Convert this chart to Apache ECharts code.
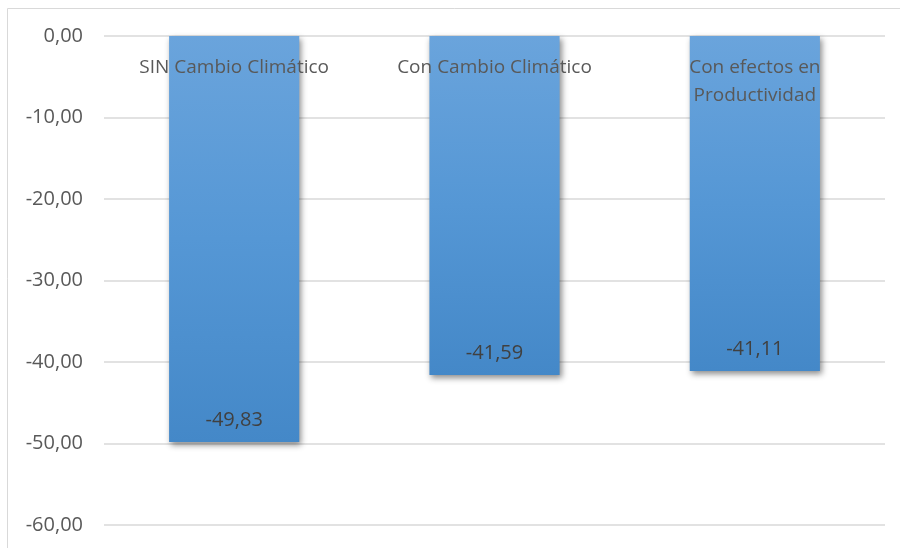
<!DOCTYPE html>
<html><head><meta charset="utf-8">
<script src="https://cdn.jsdelivr.net/npm/echarts@6/dist/echarts.min.js"></script>
<style>html,body{margin:0;padding:0;background:#fff}#c{width:900px;height:548px}</style>
</head><body><div id="c"></div>
<script>
const categories = ['SIN Cambio Climático', 'Con Cambio Climático', 'Con efectos en\nProductividad'];
const values = [-49.83, -41.59, -41.11];
const yTicks = {min: -60, max: 0, interval: 10};

const fmt = v => v.toFixed(2).replace('.', ',');
const chart = echarts.init(document.getElementById('c'));
chart.setOption({
  animation: false,
  graphic: [{type: 'rect', shape: {x: 7.5, y: 8.5, width: 1000, height: 1000}, style: {fill: 'none', stroke: '#d9d9d9', lineWidth: 1}, z: -10}],
  grid: {left: 104, right: 15, top: 36, bottom: 23},
  xAxis: {
    type: 'category', data: categories, position: 'top', z: 10,
    axisLine: {show: false}, axisTick: {show: false},
    axisLabel: {inside: true, margin: 18, color: '#595959', fontFamily: 'Open Sans', fontSize: 19, lineHeight: 28, verticalAlign: 'top'}
  },
  yAxis: {
    type: 'value', min: yTicks.min, max: yTicks.max, interval: yTicks.interval,
    axisLine: {show: false}, axisTick: {show: false},
    axisLabel: {formatter: fmt, color: '#595959', fontFamily: 'Open Sans', fontSize: 20, margin: 21},
    splitLine: {lineStyle: {color: '#d9d9d9', width: 1.5}}
  },
  series: [{
    type: 'bar', data: values, barWidth: '50%',
    itemStyle: {
      color: new echarts.graphic.LinearGradient(0, 0, 0, 1, [{offset: 0, color: '#6aa4dc'}, {offset: 0.5, color: '#5597d5'}, {offset: 1, color: '#4488c8'}]),
      shadowBlur: 6, shadowOffsetX: 2, shadowOffsetY: 3, shadowColor: 'rgba(0,0,0,0.45)'
    },
    label: {show: true, position: 'insideBottom', distance: 12, formatter: p => fmt(p.value), color: '#404040', fontFamily: 'Open Sans', fontSize: 20}
  }]
});
</script></body></html>
